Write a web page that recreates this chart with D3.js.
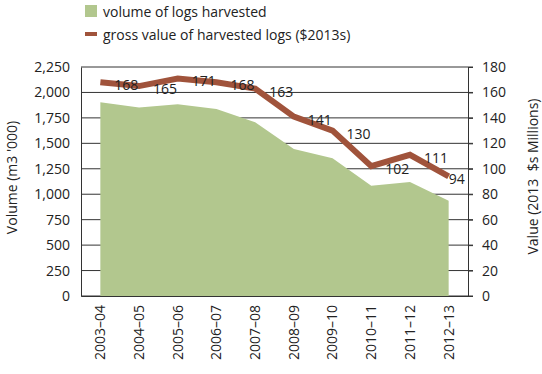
<!DOCTYPE html>
<html>
<head>
<meta charset="utf-8">
<script src="https://cdn.jsdelivr.net/npm/d3@7"></script>
<style>
body { margin: 0; background: #fff; }
text { font-family: "Open Sans", sans-serif; fill: #222; }
</style>
</head>
<body>
<div id="chart"></div>
<script>
var years = ["2003–04", "2004–05", "2005–06", "2006–07", "2007–08", "2008–09", "2009–10", "2010–11", "2011–12", "2012–13"];
var volume = [1903, 1851, 1884, 1838, 1707, 1445, 1354, 1084, 1121, 937];
var value = [168, 165, 171, 168, 163, 141, 130, 102, 111, 94];
var volumeTicks = [0, 250, 500, 750, 1000, 1250, 1500, 1750, 2000, 2250];
var valueTicks = [0, 20, 40, 60, 80, 100, 120, 140, 160, 180];

var width = 542;
var height = 374;
var padding = { left: 81, right: 74, top: 67, bottom: 78 };
var canvasWidth = width - padding.left - padding.right;
var canvasHeight = height - padding.top - padding.bottom;

var green = "#b2c78e";
var brown = "#a0533b";
var fontSize = "14px";

var svg = d3.select("#chart").append("svg")
    .attr("width", width)
    .attr("height", height);

var g = svg.append("g")
    .attr("transform", "translate(" + padding.left + "," + padding.top + ")");

var xScale = d3.scaleBand()
    .domain(years)
    .range([0, canvasWidth]);

var yLeft = d3.scaleLinear().domain([0, 2250]).range([canvasHeight, 0]);
var yRight = d3.scaleLinear().domain([0, 180]).range([canvasHeight, 0]);

function cx(d) { return xScale(d) + xScale.bandwidth() / 2; }

// gridlines (run past right axis like outer ticks)
g.append("g").selectAll("line")
    .data(volumeTicks)
    .enter().append("line")
    .attr("x1", 0)
    .attr("x2", canvasWidth + 5)
    .attr("y1", function(d) { return yLeft(d); })
    .attr("y2", function(d) { return yLeft(d); })
    .attr("stroke", "#333")
    .attr("stroke-width", 1);

// area
var area = d3.area()
    .x(function(d, i) { return cx(years[i]); })
    .y0(canvasHeight)
    .y1(function(d) { return yLeft(d); });

g.append("path")
    .attr("d", area(volume))
    .attr("fill", green);

// axes
var leftAxis = g.append("g")
    .call(d3.axisLeft(yLeft).tickValues(volumeTicks).tickSize(0).tickPadding(11).tickFormat(d3.format(",")));
leftAxis.select(".domain").attr("stroke", "#333");
leftAxis.selectAll("text").style("font-size", fontSize).attr("fill", "#222");

var rightAxis = g.append("g")
    .attr("transform", "translate(" + canvasWidth + ",0)")
    .call(d3.axisRight(yRight).tickValues(valueTicks).tickSize(5).tickPadding(9));
rightAxis.select(".domain").attr("stroke", "#333");
rightAxis.selectAll(".tick line").attr("stroke", "#333");
rightAxis.selectAll("text").style("font-size", fontSize).attr("fill", "#222");

var bottomAxis = g.append("g")
    .attr("transform", "translate(0," + canvasHeight + ")")
    .call(d3.axisBottom(xScale).tickSize(0).tickPadding(9));
bottomAxis.select(".domain").attr("stroke", "#333");
bottomAxis.selectAll("text")
    .style("font-size", fontSize)
    .attr("fill", "#222")
    .attr("transform", "rotate(-90)")
    .attr("text-anchor", "end")
    .attr("x", -9)
    .attr("y", 0)
    .attr("dy", "0.35em");

// value line
var line = d3.line()
    .x(function(d, i) { return cx(years[i]); })
    .y(function(d) { return yRight(d); });

g.append("path")
    .attr("d", line(value))
    .attr("fill", "none")
    .attr("stroke", brown)
    .attr("stroke-width", 6);

// value labels, offset to the right of each point
g.selectAll(".vlabel")
    .data(value)
    .enter().append("text")
    .attr("class", "vlabel")
    .attr("x", function(d, i) { return cx(years[i]) + (i == value.length - 1 ? 8 : 26); })
    .attr("y", function(d) { return yRight(d) + 3; })
    .attr("text-anchor", "middle")
    .attr("dy", "0.35em")
    .style("font-size", fontSize)
    .text(function(d) { return d; });

// axis titles
svg.append("text")
    .attr("transform", "translate(17," + (padding.top + canvasHeight / 2 - 4) + ") rotate(-90)")
    .attr("text-anchor", "middle")
    .style("font-size", fontSize)
    .text("Volume (m3 '000)");

svg.append("text")
    .attr("transform", "translate(538," + (padding.top + canvasHeight / 2 - 5) + ") rotate(-90)")
    .attr("text-anchor", "middle")
    .style("font-size", fontSize)
    .style("white-space", "pre")
    .attr("xml:space", "preserve")
    .text("Value (2013  $s Millions)");

// legend
var legend = svg.append("g").attr("transform", "translate(85,0)");
legend.append("rect")
    .attr("x", 0).attr("y", 5).attr("width", 12).attr("height", 12)
    .attr("fill", green);
legend.append("text")
    .attr("x", 18).attr("y", 17)
    .style("font-size", fontSize)
    .text("volume of logs harvested");
legend.append("rect")
    .attr("x", 0).attr("y", 32).attr("width", 12).attr("height", 4)
    .attr("fill", brown);
legend.append("text")
    .attr("x", 18).attr("y", 40)
    .style("font-size", fontSize)
    .text("gross value of harvested logs ($2013s)");
</script>
</body>
</html>
